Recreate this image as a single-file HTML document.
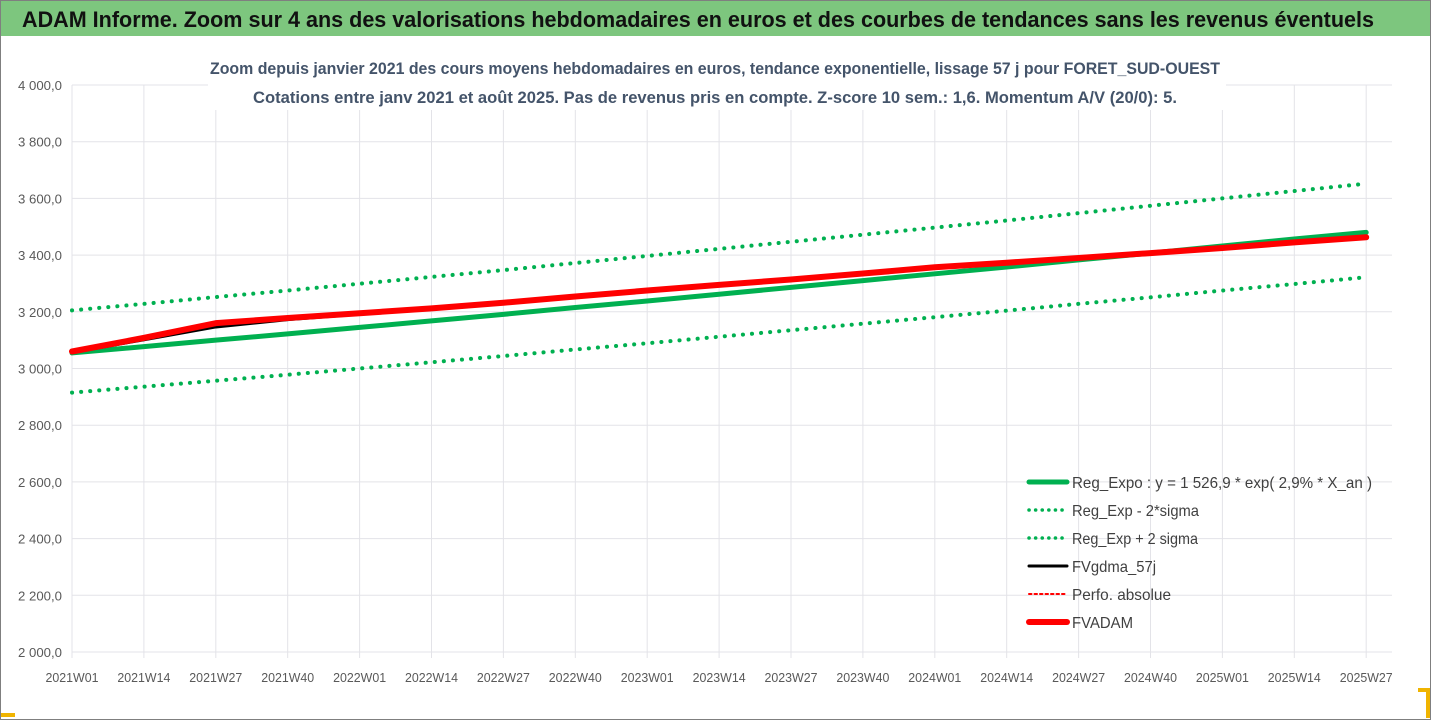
<!DOCTYPE html>
<html><head><meta charset="utf-8"><style>
html,body{margin:0;padding:0;background:#fff;}
svg{display:block;font-family:"Liberation Sans",sans-serif;}
</style></head><body>
<svg id="chart" width="1431" height="720" viewBox="0 0 1431 720">
<rect x="0.5" y="0.5" width="1430" height="719" fill="#fff" stroke="#7f7f7f"/>
<rect x="1" y="1" width="1429" height="35" fill="#7dc67e"/>
<text x="22" y="27" font-size="22" font-weight="bold" fill="#111" textLength="1352" lengthAdjust="spacingAndGlyphs">ADAM Informe. Zoom sur 4 ans des valorisations hebdomadaires en euros et des courbes de tendances sans les revenus éventuels</text>
<g id="grid"></g><g id="axes"></g><g id="series"></g>
<rect x="208" y="54" width="1018" height="56" fill="#fff"/>
<text x="715" y="74" font-size="17" font-weight="bold" fill="#44546a" text-anchor="middle" textLength="1010" lengthAdjust="spacingAndGlyphs">Zoom depuis janvier 2021 des cours moyens hebdomadaires en euros, tendance exponentielle, lissage 57 j pour FORET_SUD-OUEST</text>
<text x="715" y="103" font-size="17" font-weight="bold" fill="#44546a" text-anchor="middle" textLength="924" lengthAdjust="spacingAndGlyphs">Cotations entre janv 2021 et août 2025.  Pas de revenus pris en compte. Z-score 10 sem.: 1,6. Momentum A/V (20/0): 5.</text>
<g id="legend"></g>
<rect x="1418" y="688" width="12" height="4" fill="#f0b400"/><rect x="1426" y="688" width="4" height="30" fill="#f0b400"/>
<rect x="1" y="713" width="14" height="4" fill="#f0b400"/>
</svg>
<script>
const categories=["2021W01","2021W14","2021W27","2021W40","2022W01","2022W14","2022W27","2022W40","2023W01","2023W14","2023W27","2023W40","2024W01","2024W14","2024W27","2024W40","2025W01","2025W14","2025W27"];
const yTicks=[2000,2200,2400,2600,2800,3000,3200,3400,3600,3800,4000];
const regExpo=[3055,3077,3100,3122,3145,3168,3191,3215,3238,3262,3286,3310,3334,3358,3383,3407,3432,3457,3480];
const regLow=[2915,2936,2957,2978,3000,3022,3044,3067,3089,3112,3135,3158,3181,3204,3228,3251,3275,3298,3322];
const regHigh=[3205,3228,3252,3275,3299,3323,3347,3372,3397,3422,3447,3472,3497,3522,3548,3574,3600,3626,3652];
const fvGdma=[3060,3105,3150,3176,3195,3212,3232,3254,3275,3295,3314,3335,3357,3373,3390,3407,3425,3445,3463];
const fvAdam=[3060,3108,3160,3178,3195,3212,3232,3254,3275,3295,3314,3335,3357,3373,3390,3407,3425,3445,3463];
const NS="http://www.w3.org/2000/svg";
const X0=72,DX=71.9,Y0=652,YS=0.2835;
const xs=i=>X0+i*DX, ys=v=>Y0-(v-2000)*YS;
function mk(tag,at,parent){const e=document.createElementNS(NS,tag);for(const k in at)e.setAttribute(k,at[k]);parent.appendChild(e);return e;}
const grid=document.getElementById('grid'),axes=document.getElementById('axes'),ser=document.getElementById('series'),leg=document.getElementById('legend');
yTicks.forEach(v=>{
 const l=mk('line',{x1:X0,x2:1392,y1:ys(v),y2:ys(v),stroke:'#e3e3e8','stroke-width':1},grid);
 
 
 const t=mk('text',{x:62,y:ys(v)+5,'font-size':12.5,fill:'#595959','text-anchor':'end',textLength:44,lengthAdjust:'spacingAndGlyphs'},axes);
 t.textContent=v.toLocaleString('fr-FR').replace(/\s|\u202f/g,' ')+',0';
 
 
});
categories.forEach((c,i)=>{
 const l=mk('line',{x1:xs(i),x2:xs(i),y1:ys(4000),y2:Y0+6,stroke:'#e3e3e8','stroke-width':1},grid);
 
 
 const t=mk('text',{x:xs(i),y:682,'font-size':12.5,fill:'#595959','text-anchor':'middle',textLength:53,lengthAdjust:'spacingAndGlyphs'},axes);
 t.textContent=c;
 
 
});
function pts(arr){return arr.map((v,i)=>xs(i)+','+ys(v)).join(' ');}
const defs=[
 [regLow,'#00b050',4,'0.1 9','reg-exp-minus-2sigma'],
 [regHigh,'#00b050',4,'0.1 9','reg-exp-plus-2sigma'],
 [regExpo,'#00b050',5,null,'reg-expo-line'],
 [fvGdma,'#000',5,null,'fvgdma-57j-line'],
 [fvAdam,'#ff0000',6,null,'fvadam-line']
];
defs.forEach(d=>{
 const a={points:pts(d[0]),fill:'none',stroke:d[1],'stroke-width':d[2],'stroke-linecap':'round','stroke-linejoin':'round'};
 if(d[3])a['stroke-dasharray']=d[3];
 const p=mk('polyline',a,ser);
 
 
});
const items=[['Reg_Expo : y = 1 526,9 * exp( 2,9% *  X_an )','#00b050',5,null,300],['Reg_Exp - 2*sigma','#00b050',3.5,'0.1 6.5',127],['Reg_Exp + 2 sigma','#00b050',3.5,'0.1 6.5',126],['FVgdma_57j','#000',3,null,84],['Perfo. absolue','#ff0000',2,'2.5 3',99],['FVADAM','#ff0000',6,null,61]];
items.forEach((it,i)=>{
 const y=482+i*28;
 const a={x1:1029,x2:1067,y1:y,y2:y,stroke:it[1],'stroke-width':it[2],'stroke-linecap':'round'};
 if(it[3])a['stroke-dasharray']=it[3];
 const l=mk('line',a,leg);
 
 
 const t=mk('text',{x:1072,y:y+6,'font-size':16,fill:'#404040',textLength:it[4],lengthAdjust:'spacingAndGlyphs'},leg);
 t.textContent=it[0];
 
 
});
</script>
</body></html>
